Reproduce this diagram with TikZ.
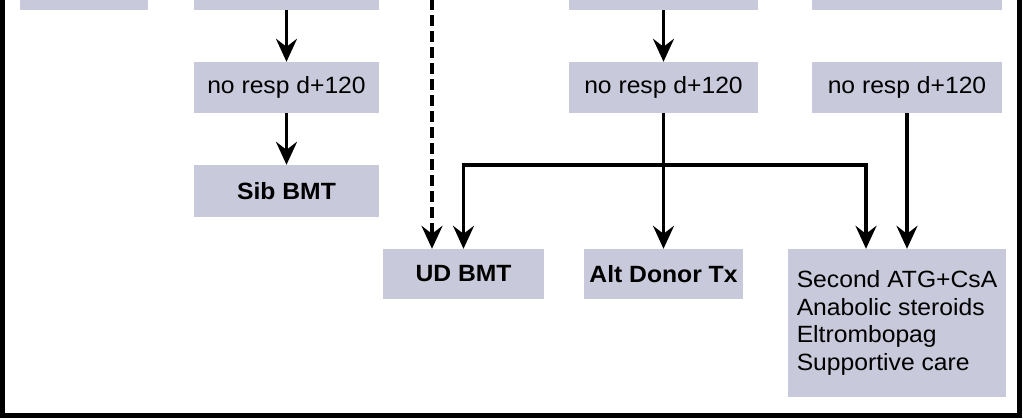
\documentclass[tikz,border=0pt]{standalone}
\usepackage{fontspec}
\setmainfont{Liberation Sans}[FakeStretch=1.05]
\usetikzlibrary{arrows.meta}
\definecolor{boxfill}{RGB}{200,201,219}
\tikzset{
  box/.style={fill=boxfill, inner sep=0pt, font=\fontsize{23.5bp}{27.5bp}\selectfont},
  boldbox/.style={box, font=\fontsize{23.5bp}{27.5bp}\selectfont\bfseries},
  tip/.style={},
  arr/.style={line width=3.5bp, -{Stealth[length=23bp,width=21bp,inset=8bp]}},
  dasharr/.style={line width=3.3bp, dash pattern=on 11bp off 5bp, -{Stealth[length=23bp,width=21bp,inset=8bp]}},
  plainline/.style={line width=3.5bp, line join=miter},
}
\begin{document}
\begin{tikzpicture}[x=1bp,y=-1bp]
\useasboundingbox (0,0) rectangle (1023,418);
% cut-off top boxes
\node[box, minimum width=127bp, minimum height=50bp] (top1) at (84,-15) {};
\node[box, minimum width=185bp, minimum height=50bp] (top2) at (286.5,-15) {};
\node[box, minimum width=189bp, minimum height=50bp] (top4) at (663.5,-15) {};
\node[box, minimum width=190bp, minimum height=50bp] (top5) at (907,-15) {};
% second row
\node[box, minimum width=185bp, minimum height=51bp] (nr2) at (286.5,87.5) {no resp d+120};
\node[box, minimum width=189bp, minimum height=51bp] (nr4) at (663.5,87.5) {no resp d+120};
\node[box, minimum width=190bp, minimum height=51bp] (nr5) at (907,87.5) {no resp d+120};
% third row
\node[boldbox, minimum width=185bp, minimum height=52bp] (sib) at (286.5,191) {Sib BMT};
% bottom row
\node[boldbox, minimum width=161bp, minimum height=50bp] (ud) at (463.5,274) {UD BMT};
\node[boldbox, minimum width=159bp, minimum height=50bp] (alt) at (663.5,274) {Alt Donor Tx};
\node[box, minimum width=218bp, minimum height=148bp, align=left] (other) at (897,323) {Second ATG+CsA\\Anabolic steroids\\Eltrombopag\\Supportive care};
% connectors
\draw[arr] (top2.south) -- (nr2.north);
\draw[arr] (nr2.south) -- (sib.north);
\draw[arr] (top4.south) -- (nr4.north);
\draw[arr] (nr4.south) -- (alt.north);
\draw[arr] (nr5.south) -- (nr5.south |- other.north);
\coordinate (dtop) at (432,-1);
\draw[dasharr] (dtop) -- (dtop |- ud.north);
\coordinate (jl) at (463.5,165);
\coordinate (jr) at (866,165);
\draw[plainline, {Stealth[length=23bp,width=21bp,inset=8bp]}-{Stealth[length=23bp,width=21bp,inset=8bp]}] (jl |- ud.north) -- (jl) -- (jr) -- (jr |- other.north);
% frame
\draw[line width=5bp, line join=miter] (2.5,-5) -- (2.5,415.5) -- (1019.5,415.5) -- (1019.5,-5);
\end{tikzpicture}
\end{document}
